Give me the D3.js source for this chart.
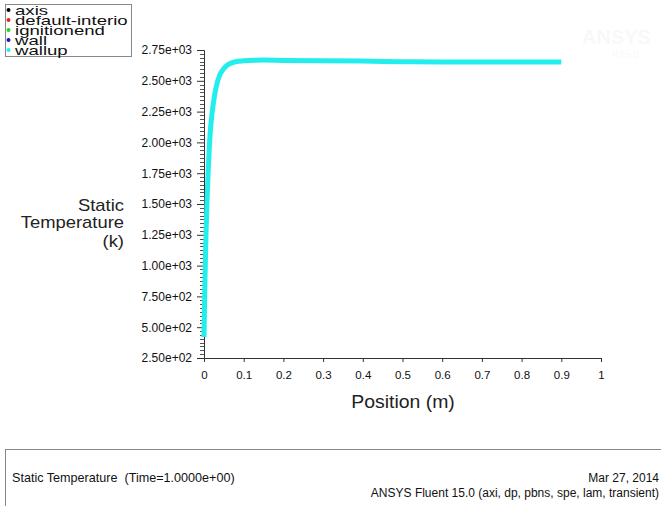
<!DOCTYPE html>
<html>
<head>
<meta charset="utf-8">
<script src="https://cdn.jsdelivr.net/npm/d3@7"></script>
<style>
  body { margin: 0; background: #fff; }
  svg { display: block; font-family: Arial, "Liberation Sans", sans-serif; }
</style>
</head>
<body>
<div id="chart"></div>
<script>
// wallup profile
var position = [0, 0.0025, 0.005, 0.0075, 0.01, 0.015, 0.02, 0.025, 0.03, 0.04, 0.05, 0.06, 0.08, 0.1, 0.15, 0.2, 0.3, 0.4, 0.5, 0.6, 0.7, 0.8, 0.9];
var temperature = [420, 900, 1250, 1520, 1720, 2050, 2230, 2350, 2440, 2550, 2600, 2630, 2655, 2662, 2668, 2665, 2662, 2660, 2655, 2652, 2652, 2652, 2652];

var legendNames = ["axis", "default-interio", "ignitionend", "wall", "wallup"];
var legendColors = ["#000000", "#e8231f", "#22d322", "#1a1ab8", "#22eeee"];

var yTicks = [250, 500, 750, 1000, 1250, 1500, 1750, 2000, 2250, 2500, 2750];
var xTicks = [0, 0.1, 0.2, 0.3, 0.4, 0.5, 0.6, 0.7, 0.8, 0.9, 1];

var footerLeft = "Static Temperature  (Time=1.0000e+00)";
var footerDate = "Mar 27, 2014";
var footerVersion = "ANSYS Fluent 15.0 (axi, dp, pbns, spe, lam, transient)";

var areaWidth = 661, areaHeight = 506;

var svg = d3.select("#chart").append("svg")
  .attr("width", areaWidth).attr("height", areaHeight);

var xScale = d3.scaleLinear().domain([0, 1]).range([204, 601]);
var yScale = d3.scaleLinear().domain([250, 2750]).range([358, 50]);

// stretched text, ANSYS fonts are wider than Arial
function stretchText(g, str, x, y, size, sx, anchor) {
  return g.append("text")
    .attr("transform", "translate(" + x + "," + y + ") scale(" + sx + ",1)")
    .attr("text-anchor", anchor || "start")
    .style("font-size", size + "px")
    .style("font-weight", "normal")
    .style("fill", "#222")
    .text(str);
}

// faint watermark
var wm = svg.append("g").style("opacity", 0.025);
stretchText(wm, "ANSYS", 582, 44, 20, 1.0).style("font-weight", "bold");
stretchText(wm, "R15.0", 612, 58, 10, 1.0);

// y axis with minor ticks
var yAxis = d3.axisLeft(yScale).tickValues(yTicks)
  .tickFormat(function (d) { return d3.format(".2e")(d).replace(/e([+-])(\d)$/, "e$10$2"); })
  .tickSize(7).tickPadding(5);
var gy = svg.append("g").attr("transform", "translate(204,0)").call(yAxis);
gy.select(".domain").attr("stroke", "#333");
gy.selectAll(".tick line").attr("stroke", "#333");
gy.selectAll(".tick text")
  .style("font-size", "12px").style("fill", "#111")
  .attr("font-family", "Arial, 'Liberation Sans', sans-serif");

var minor = [];
for (var i = 0; i < yTicks.length - 1; i++) {
  for (var k = 1; k < 8; k++) {
    minor.push(yTicks[i] + (yTicks[i + 1] - yTicks[i]) * k / 8);
  }
}
svg.append("g").selectAll("line").data(minor).enter().append("line")
  .attr("x1", 200).attr("x2", 204)
  .attr("y1", function (d) { return Math.round(yScale(d)) + 0.5; })
  .attr("y2", function (d) { return Math.round(yScale(d)) + 0.5; })
  .attr("stroke", "#555");

// x axis
var xAxis = d3.axisBottom(xScale).tickValues(xTicks)
  .tickFormat(function (d) { return d3.format("")(d); })
  .tickSize(4).tickPadding(9);
var gx = svg.append("g").attr("transform", "translate(0,358)").call(xAxis);
gx.select(".domain").attr("stroke", "#333");
gx.selectAll(".tick line").attr("stroke", "#333");
gx.selectAll(".tick text")
  .style("font-size", "11.5px").style("fill", "#111")
  .attr("font-family", "Arial, 'Liberation Sans', sans-serif");

// axis titles
stretchText(svg, "Position (m)", 403, 408, 18, 1.08, "middle");
stretchText(svg, "Static", 124, 211, 16, 1.15, "end");
stretchText(svg, "Temperature", 124, 228, 16, 1.15, "end");
stretchText(svg, "(k)", 124, 247, 16, 1.15, "end");

// data line
var line = d3.line()
  .x(function (d, i) { return xScale(position[i]); })
  .y(function (d) { return yScale(d); })
  .curve(d3.curveMonotoneX);

svg.append("path")
  .datum(temperature)
  .attr("d", line)
  .attr("fill", "none")
  .attr("stroke", "#22eeee")
  .attr("stroke-width", 5)
  .attr("stroke-linecap", "butt");

// legend
var lg = svg.append("g");
lg.append("rect").attr("x", 5.5).attr("y", 4.5).attr("width", 126).attr("height", 52)
  .attr("fill", "none").attr("stroke", "#888");
legendNames.forEach(function (name, i) {
  var cy = 10 + i * 10;
  lg.append("circle").attr("cx", 8.5).attr("cy", cy).attr("r", 2).attr("fill", legendColors[i]);
  lg.append("text")
    .attr("transform", "translate(15," + (cy + 5) + ") scale(1.55,1)")
    .style("font-size", "12px").style("fill", "#111")
    .text(name);
});

// footer box
svg.append("rect").attr("x", 5.5).attr("y", 449.5).attr("width", 700).attr("height", 100)
  .attr("fill", "none").attr("stroke", "#888");
svg.append("text").attr("transform", "translate(12,482) scale(1.05,1)")
  .style("font-size", "12px").style("fill", "#111").style("white-space", "pre")
  .attr("xml:space", "preserve").text(footerLeft);
svg.append("text").attr("x", 659).attr("y", 482).attr("text-anchor", "end").style("font-size", "12px").style("fill", "#111").text(footerDate);
svg.append("text").attr("x", 659).attr("y", 497).attr("text-anchor", "end").style("font-size", "12px").style("fill", "#111").text(footerVersion);
</script>
</body>
</html>
